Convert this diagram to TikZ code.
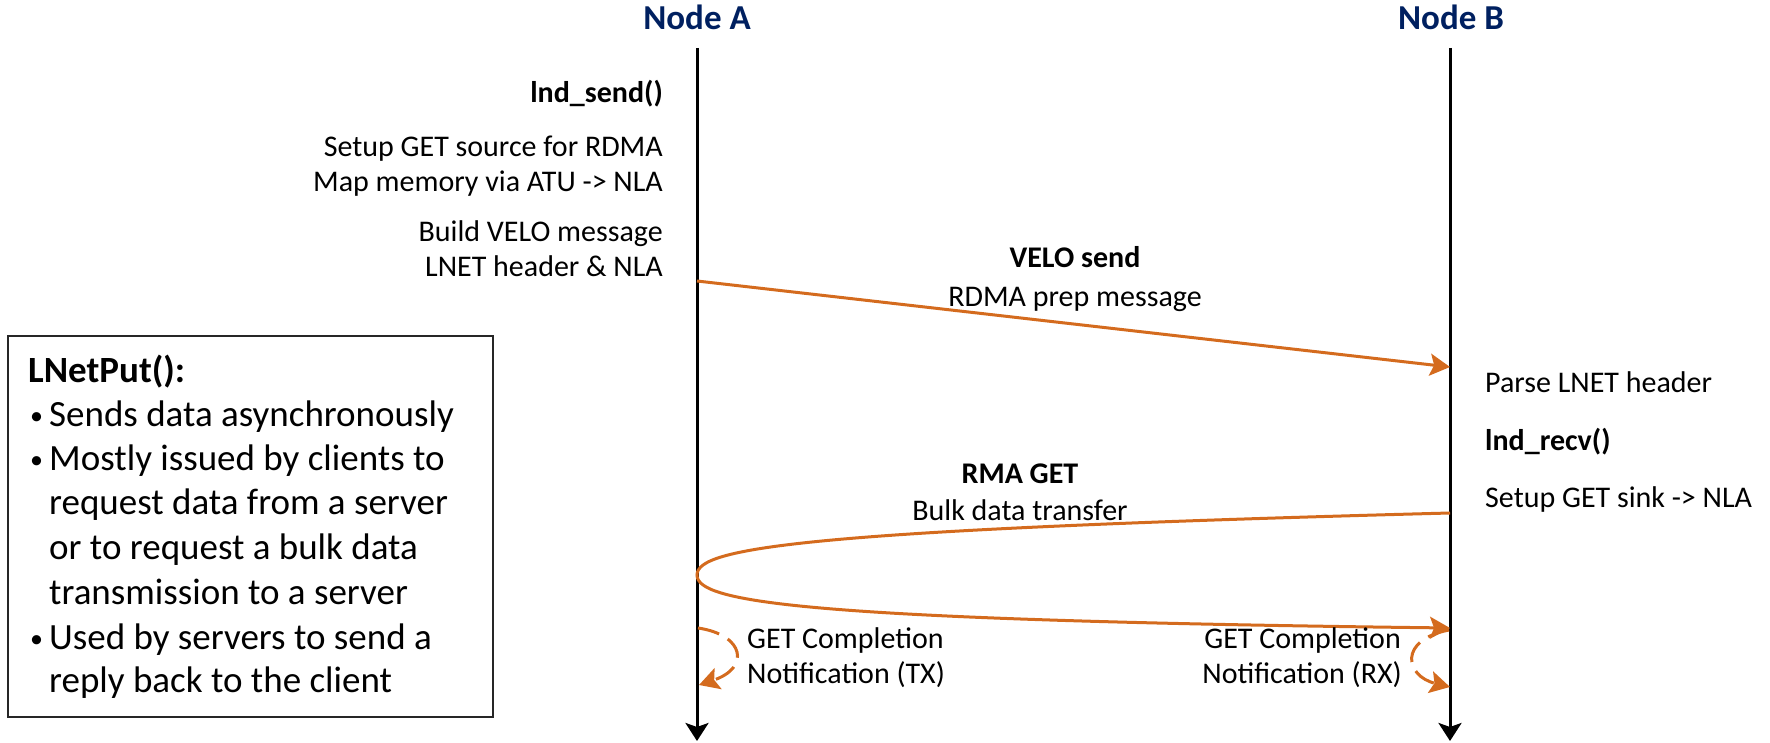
\documentclass[tikz,border=0pt]{standalone}
\usepackage{fontspec}
\setmainfont{Carlito}
\usetikzlibrary{arrows.meta}
\definecolor{navy}{HTML}{002060}
\definecolor{lorange}{HTML}{D46B1E}
\begin{document}
\begin{tikzpicture}[x=1pt,y=-1pt,
 txt/.style={inner sep=0pt, font=\fontsize{30}{35}\selectfont},
 btxt/.style={inner sep=0pt, font=\fontsize{30}{35}\selectfont\bfseries},
 title/.style={inner sep=0pt, font=\fontsize{35}{42}\selectfont\bfseries, text=navy},
 boxtxt/.style={inner sep=0pt, font=\fontsize{37}{44}\selectfont},
 boxbtxt/.style={inner sep=0pt, font=\fontsize{37}{44}\selectfont\bfseries},
 bul/.style={inner sep=0pt, font=\fontsize{26}{30}\selectfont},
 life/.style={line width=3pt, -{Stealth[length=18pt,width=23pt,inset=4pt]}},
 msg/.style={line width=3pt, draw=lorange, -{Stealth[length=20pt,width=22pt,inset=4pt]}},
 note/.style={msg, dash pattern=on 22pt off 10pt}]
\useasboundingbox (0,0) rectangle (1770,743);

% lifelines
\node[title, anchor=base] (A) at (697,30) {Node A};
\node[title, anchor=base] (B) at (1451,30) {Node B};
\coordinate (Atop) at (697,48);
\coordinate (Abot) at (697,741);
\coordinate (Btop) at (1450,48);
\coordinate (Bbot) at (1450,741);
\draw[life] (Atop) -- (Abot);
\draw[life] (Btop) -- (Bbot);

% node A texts
\node[btxt, anchor=base east] (send) at (663,103) {lnd\_send()};
\node[txt, anchor=base east] (s1) at (663,157) {Setup GET source for RDMA};
\node[txt, anchor=base east] (s2) at (663,192) {Map memory via ATU -> NLA};
\node[txt, anchor=base east] (s3) at (663,242) {Build VELO message};
\node[txt, anchor=base east] (s4) at (663,277) {LNET header \& NLA};

% VELO send
\node[btxt, anchor=base] (velo) at (1075,268) {VELO send};
\node[txt, anchor=base] (velo2) at (1075,307) {RDMA prep message};
\coordinate (v1) at (697,281);
\coordinate (v2) at (1450,367);
\draw[msg] (v1) -- (v2);

% node B texts
\node[txt, anchor=base west] (r1) at (1485,392) {Parse LNET header};
\node[btxt, anchor=base west] (recv) at (1485,450) {lnd\_recv()};
\node[txt, anchor=base west] (r2) at (1485,507) {Setup GET sink -> NLA};

% RMA GET
\node[btxt, anchor=base] (rma) at (1020,483) {RMA GET};
\node[txt, anchor=base] (rma2) at (1020,520) {Bulk data transfer};
\coordinate (g1) at (1450,513);
\coordinate (g2) at (697,575);
\coordinate (g3) at (1450,628);
\draw[msg] (g1) .. controls (800,530) and (697,548) .. (g2)
               .. controls (697,602) and (800,620) .. (g3);

% completion notifications
\coordinate (t1) at (698,628);
\coordinate (t2) at (699,685);
\draw[note] (t1) .. controls (745,635) and (750,668) .. (t2);
\node[txt, anchor=base west] (tx1) at (747,648) {GET Completion};
\node[txt, anchor=base west] (tx2) at (747,683) {Notification (TX)};

\coordinate (x1) at (1449,630);
\coordinate (x2) at (1450,687);
\draw[note] (x1) .. controls (1398,640) and (1405,676) .. (x2);
\node[txt, anchor=base east] (rx1) at (1401,648) {GET Completion};
\node[txt, anchor=base east] (rx2) at (1402,683) {Notification (RX)};

% LNetPut box
\node[draw=black!85, line width=2pt, minimum width=485pt, minimum height=381pt, inner sep=0pt] (box) at (250.5,526.5) {};
\node[boxbtxt, anchor=base west] (bt) at (28,382) {LNetPut():};
\node[bul, anchor=base west] (b1) at (30,424) {•};
\node[boxtxt, anchor=base west] (l1) at (49,426) {Sends data asynchronously};
\node[bul, anchor=base west] (b2) at (30,468) {•};
\node[boxtxt, anchor=base west] (l2) at (49,470) {Mostly issued by clients to};
\node[boxtxt, anchor=base west] (l3) at (49,514) {request data from a server};
\node[boxtxt, anchor=base west] (l4) at (49,559) {or to request a bulk data};
\node[boxtxt, anchor=base west] (l5) at (49,604) {transmission to a server};
\node[bul, anchor=base west] (b3) at (30,647) {•};
\node[boxtxt, anchor=base west] (l6) at (49,649) {Used by servers to send a};
\node[boxtxt, anchor=base west] (l7) at (49,692) {reply back to the client};
\end{tikzpicture}
\end{document}
